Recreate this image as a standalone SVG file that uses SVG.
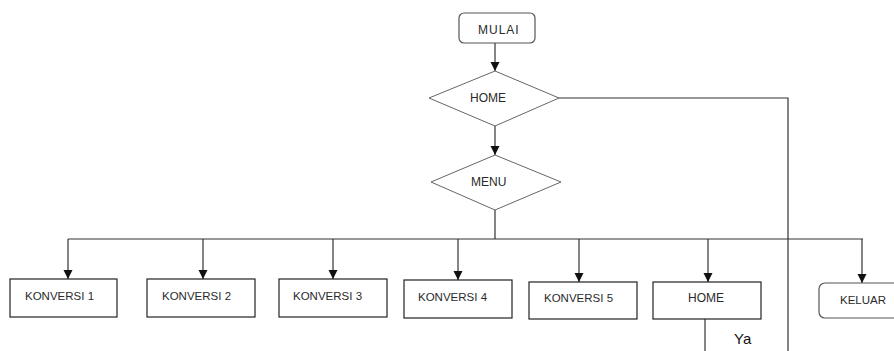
<svg xmlns="http://www.w3.org/2000/svg" width="894" height="351" viewBox="0 0 894 351">
  <style>
    .box { fill: #ffffff; stroke: #222222; stroke-width: 1.2; }
    .term { fill: #ffffff; stroke: #555555; stroke-width: 1.2; }
    .dec { fill: #ffffff; stroke: #666666; stroke-width: 1; }
    .lbl { font-family: "Liberation Sans", Arial, sans-serif; font-size: 11.5px; fill: #2a2a2a; }
    .lbl12 { font-family: "Liberation Sans", Arial, sans-serif; font-size: 12px; fill: #2a2a2a; }
    .ya { font-family: "Liberation Sans", Arial, sans-serif; font-size: 15px; fill: #111111; }
    .ln { fill: none; stroke: #333333; stroke-width: 1.2; }
  </style>
  <defs>
    <marker id="arr" markerUnits="userSpaceOnUse" markerWidth="10" markerHeight="10" refX="9" refY="5" orient="auto">
      <path d="M0,0.5 L9,5 L0,9.5 Z" fill="#111111"/>
    </marker>
  </defs>
  <rect width="894" height="351" fill="#ffffff"/>

  <g id="connectors">
    <path class="ln" d="M495,43 V71" marker-end="url(#arr)"/>
    <path class="ln" d="M495,126 V155" marker-end="url(#arr)"/>
    <path class="ln" d="M559,98 H788 V351"/>
    <path class="ln" d="M495,210 V239"/>
    <path class="ln" d="M68,239 H863"/>
    <path class="ln" d="M68,239 V279" marker-end="url(#arr)"/>
    <path class="ln" d="M203,239 V279" marker-end="url(#arr)"/>
    <path class="ln" d="M333,239 V279" marker-end="url(#arr)"/>
    <path class="ln" d="M458,239 V280" marker-end="url(#arr)"/>
    <path class="ln" d="M579,239 V282" marker-end="url(#arr)"/>
    <path class="ln" d="M708,239 V282" marker-end="url(#arr)"/>
    <path class="ln" d="M862,239 V283" marker-end="url(#arr)"/>
    <path class="ln" d="M705,319 V351"/>
    <text class="ya" x="734" y="344">Ya</text>
  </g>

  <g id="mulai">
    <rect class="term" x="459" y="13" width="76" height="30" rx="5" ry="5"/>
    <text class="lbl12" x="478" y="33.5" letter-spacing="1">MULAI</text>
  </g>

  <g id="home-decision">
    <polygon class="dec" points="495,71 559,98 495,126 429,98"/>
    <text class="lbl12" x="470" y="101.7">HOME</text>
  </g>

  <g id="menu">
    <polygon class="dec" points="495,155 561,182 495,210 431,182"/>
    <text class="lbl12" x="471" y="185.7">MENU</text>
  </g>

  <g id="konversi1">
    <rect class="box" x="10" y="279" width="107" height="38"/>
    <text class="lbl" x="25" y="299.5">KONVERSI 1</text>
  </g>
  <g id="konversi2">
    <rect class="box" x="147" y="279" width="108" height="38"/>
    <text class="lbl" x="162" y="299.5">KONVERSI 2</text>
  </g>
  <g id="konversi3">
    <rect class="box" x="279" y="279" width="108" height="38"/>
    <text class="lbl" x="293" y="299.5">KONVERSI 3</text>
  </g>
  <g id="konversi4">
    <rect class="box" x="404" y="280" width="108" height="38"/>
    <text class="lbl" x="418" y="300.5">KONVERSI 4</text>
  </g>
  <g id="konversi5">
    <rect class="box" x="529" y="282" width="108" height="37"/>
    <text class="lbl" x="544" y="302">KONVERSI 5</text>
  </g>
  <g id="home-box">
    <rect class="box" x="653" y="282" width="108" height="37"/>
    <text class="lbl12" x="688" y="302">HOME</text>
  </g>
  <g id="keluar">
    <rect class="term" x="819" y="283" width="85" height="35" rx="6" ry="6"/>
    <text class="lbl" x="840" y="304">KELUAR</text>
  </g>
</svg>
